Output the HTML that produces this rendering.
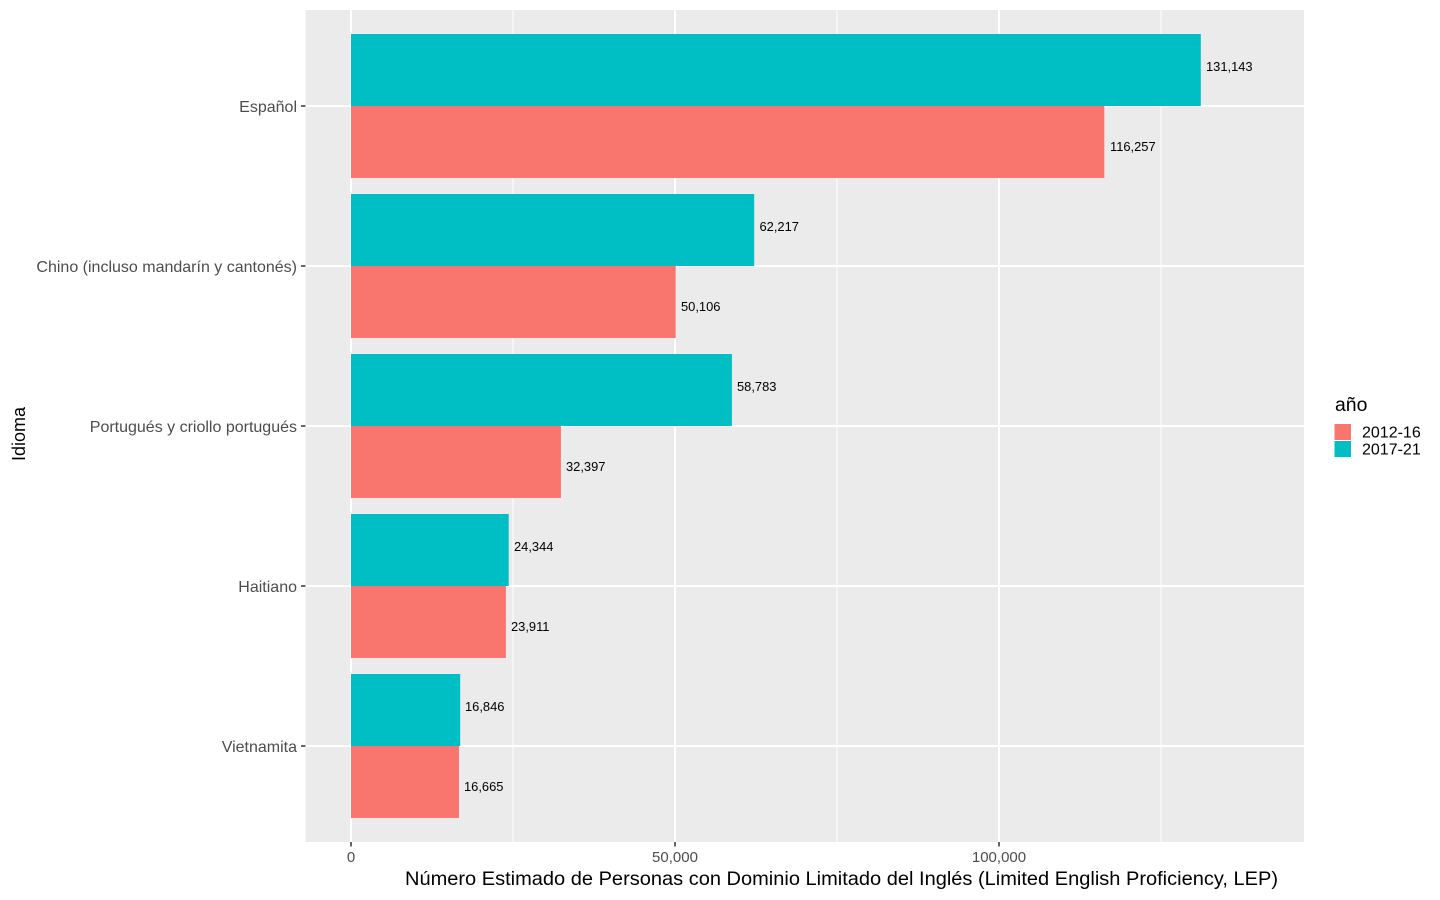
<!DOCTYPE html>
<html><head><meta charset="utf-8"><style>html,body{margin:0;padding:0;background:#fff;}svg{display:block;}</style></head>
<body>
<svg width="1440" height="900" xmlns="http://www.w3.org/2000/svg" font-family="'Liberation Sans', Arial, sans-serif">
<rect x="0" y="0" width="1440" height="900" fill="#fff"/>
<rect x="305.5" y="10" width="998.5" height="832" fill="#ebebeb"/>
<g stroke="#fff" stroke-width="1">
<line x1="513" y1="10" x2="513" y2="842"/>
<line x1="837" y1="10" x2="837" y2="842"/>
<line x1="1161" y1="10" x2="1161" y2="842"/>
</g>
<g stroke="#fff" stroke-width="2">
<line x1="351" y1="10" x2="351" y2="842"/>
<line x1="675" y1="10" x2="675" y2="842"/>
<line x1="999" y1="10" x2="999" y2="842"/>
<line x1="305.5" y1="106" x2="1304" y2="106"/>
<line x1="305.5" y1="266" x2="1304" y2="266"/>
<line x1="305.5" y1="426" x2="1304" y2="426"/>
<line x1="305.5" y1="586" x2="1304" y2="586"/>
<line x1="305.5" y1="746" x2="1304" y2="746"/>
</g>
<g>
<rect x="351" y="34" width="849.8" height="72" fill="#00bfc4"/>
<rect x="351" y="106" width="753.3" height="72" fill="#f8766d"/>
<rect x="351" y="194" width="403.2" height="72" fill="#00bfc4"/>
<rect x="351" y="266" width="324.7" height="72" fill="#f8766d"/>
<rect x="351" y="354" width="380.9" height="72" fill="#00bfc4"/>
<rect x="351" y="426" width="209.9" height="72" fill="#f8766d"/>
<rect x="351" y="514" width="157.7" height="72" fill="#00bfc4"/>
<rect x="351" y="586" width="154.9" height="72" fill="#f8766d"/>
<rect x="351" y="674" width="109.2" height="72" fill="#00bfc4"/>
<rect x="351" y="746" width="108.0" height="72" fill="#f8766d"/>
</g>
<g font-size="12.9" fill="#000">
<text x="1206" y="71">131,143</text>
<text x="1110" y="151">116,257</text>
<text x="759.5" y="231">62,217</text>
<text x="681" y="311">50,106</text>
<text x="737" y="391">58,783</text>
<text x="566" y="471">32,397</text>
<text x="514" y="551">24,344</text>
<text x="511" y="631">23,911</text>
<text x="465" y="711">16,846</text>
<text x="464" y="791">16,665</text>
</g>
<g stroke="#333" stroke-width="1.5">
<line x1="301" y1="106" x2="305.5" y2="106"/>
<line x1="301" y1="266" x2="305.5" y2="266"/>
<line x1="301" y1="426" x2="305.5" y2="426"/>
<line x1="301" y1="586" x2="305.5" y2="586"/>
<line x1="301" y1="746" x2="305.5" y2="746"/>
<line x1="351" y1="842" x2="351" y2="846.5"/>
<line x1="675" y1="842" x2="675" y2="846.5"/>
<line x1="999" y1="842" x2="999" y2="846.5"/>
</g>
<g font-size="16" fill="#4d4d4d" text-anchor="end">
<text x="297" y="112">Español</text>
<text x="297" y="272">Chino (incluso mandarín y cantonés)</text>
<text x="297" y="432">Portugués y criollo portugués</text>
<text x="297" y="592">Haitiano</text>
<text x="297" y="752">Vietnamita</text>
</g>
<g font-size="15" fill="#4d4d4d" text-anchor="middle">
<text x="351" y="862">0</text>
<text x="675" y="862">50,000</text>
<text x="999" y="862">100,000</text>
</g>
<text x="405" y="885" font-size="19.5" fill="#000" textLength="873" lengthAdjust="spacingAndGlyphs">Número Estimado de Personas con Dominio Limitado del Inglés (Limited English Proficiency, LEP)</text>
<text transform="translate(25,434) rotate(-90)" font-size="18" fill="#000" text-anchor="middle">Idioma</text>
<text x="1335" y="411" font-size="19.4" fill="#000">año</text>
<rect x="1334.5" y="424" width="16.5" height="16" fill="#f8766d"/>
<rect x="1334.5" y="441" width="16.5" height="16" fill="#00bfc4"/>
<g font-size="16" fill="#000">
<text x="1362" y="437.5">2012-16</text>
<text x="1362" y="454.5">2017-21</text>
</g>
</svg>
</body></html>
